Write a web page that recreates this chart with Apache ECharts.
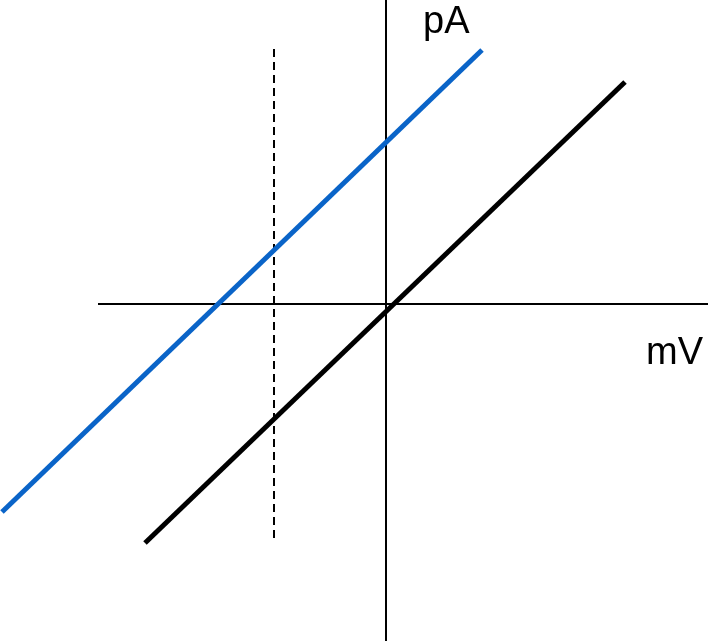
<!DOCTYPE html>
<html>
<head>
<meta charset="utf-8">
<script src="https://cdn.jsdelivr.net/npm/echarts@6/dist/echarts.min.js"></script>
<style>
  html, body { margin: 0; padding: 0; background: #fff; }
  #chart { width: 708px; height: 641px; }
</style>
</head>
<body>
<div id="chart"></div>
<script>
// Current–voltage relation: two parallel I–V lines, shifted along the voltage axis
const xRange = [-96.5, 80.5];       // mV
const yRange = [-84.25, 76];        // pA

const blueLine = [[-96, -52], [24, 63.5]];
const blackLine = [[-60.25, -59.75], [59.75, 55.5]];
const dashedLine = [[-28, 63.75], [-28, -59]];
const horizontalAxis = [[-72, 0], [80.5, 0]];
const verticalAxis = [[0, 76], [0, -84.25]];

const xName = 'mV';
const yName = 'pA';

const chart = echarts.init(document.getElementById('chart'));

function seg(data, color, width, type) {
  return {
    type: 'line',
    data: data,
    symbol: 'none',
    silent: true,
    animation: false,
    lineStyle: { color: color, width: width, type: type || 'solid', cap: 'butt' }
  };
}

function axisTitle(text, left, top) {
  return {
    text: text,
    left: left,
    top: top,
    padding: 0,
    textStyle: {
      fontSize: 38,
      fontWeight: 'normal',
      fontFamily: '"Liberation Sans", Arial, sans-serif',
      color: '#000'
    }
  };
}

chart.setOption({
  backgroundColor: '#ffffff',
  animation: false,
  title: [
    axisTitle(yName, 423, 4),
    axisTitle(xName, 646, 335)
  ],
  grid: { left: 0, right: 0, top: 0, bottom: 0 },
  xAxis: {
    type: 'value', min: xRange[0], max: xRange[1],
    axisLine: { show: false }, axisTick: { show: false },
    axisLabel: { show: false }, splitLine: { show: false }
  },
  yAxis: {
    type: 'value', min: yRange[0], max: yRange[1],
    axisLine: { show: false }, axisTick: { show: false },
    axisLabel: { show: false }, splitLine: { show: false }
  },
  series: [
    seg(horizontalAxis, '#000000', 2),
    seg(verticalAxis, '#000000', 2),
    seg(dashedLine, '#000000', 2, [8, 5]),
    seg(blueLine, '#0A64C8', 5),
    seg(blackLine, '#000000', 5)
  ]
});
</script>
</body>
</html>
